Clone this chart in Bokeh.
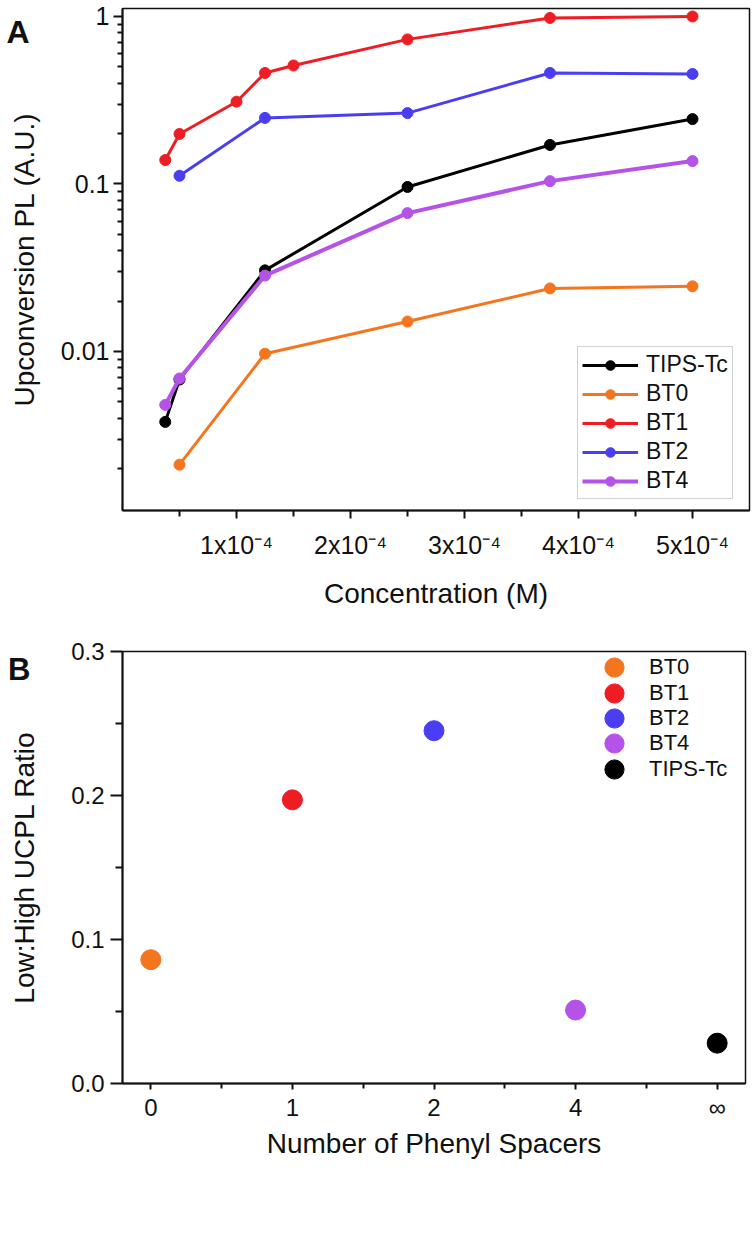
from bokeh.plotting import figure
from bokeh.models import (FixedTicker, CustomJSTickFormatter, Legend, LegendItem,
                          Range1d, LinearAxis)
from bokeh.layouts import column
from bokeh.embed import file_html
from bokeh.resources import INLINE

FONT = "Liberation Sans"

# ---------------- Panel A data ----------------
series_names = ["TIPS-Tc", "BT0", "BT1", "BT2", "BT4"]
series_colors = ["#000000", "#f5751f", "#ee1d23", "#4b3ef2", "#b552e8"]

conc_tips = [3.75e-5, 5e-5, 1.25e-4, 2.5e-4, 3.75e-4, 5e-4]
pl_tips = [0.0038, 0.0068, 0.0305, 0.096, 0.171, 0.244]
conc_bt0 = [5e-5, 1.25e-4, 2.5e-4, 3.75e-4, 5e-4]
pl_bt0 = [0.00211, 0.0097, 0.0151, 0.0238, 0.0245]
conc_bt1 = [3.75e-5, 5e-5, 1e-4, 1.25e-4, 1.5e-4, 2.5e-4, 3.75e-4, 5e-4]
pl_bt1 = [0.139, 0.199, 0.31, 0.46, 0.51, 0.73, 0.98, 1.0]
conc_bt2 = [5e-5, 1.25e-4, 2.5e-4, 3.75e-4, 5e-4]
pl_bt2 = [0.112, 0.248, 0.265, 0.46, 0.454]
conc_bt4 = [3.75e-5, 5e-5, 1.25e-4, 2.5e-4, 3.75e-4, 5e-4]
pl_bt4 = [0.0048, 0.0069, 0.0284, 0.067, 0.104, 0.137]

x_ticks_a = [1e-4, 2e-4, 3e-4, 4e-4, 5e-4]
x_minor_a = [0.5e-4, 1.5e-4, 2.5e-4, 3.5e-4, 4.5e-4]
y_ticks_a = [0.01, 0.1, 1]

# ---------------- Panel B data ----------------
b_names = ["BT0", "BT1", "BT2", "BT4", "TIPS-Tc"]
b_spacers = ["0", "1", "2", "4", "\u221e"]
b_ratio = [0.086, 0.197, 0.245, 0.051, 0.028]
b_colors = ["#f5751f", "#ee1d23", "#4b3ef2", "#b552e8", "#000000"]
y_ticks_b = [0.0, 0.1, 0.2, 0.3]


def style_axes(p, tick_font, label_font):
    for ax in (p.xaxis[0], p.yaxis[0]):
        ax.axis_line_width = 2
        ax.axis_line_color = "#111111"
        ax.major_tick_line_width = 2
        ax.minor_tick_line_width = 2
        ax.major_tick_line_color = "#111111"
        ax.minor_tick_line_color = "#111111"
        ax.major_tick_in = 0
        ax.minor_tick_in = 0
        ax.major_label_text_font = FONT
        ax.major_label_text_font_size = tick_font
        ax.major_label_text_color = "#111111"
        ax.axis_label_text_font = FONT
        ax.axis_label_text_font_size = label_font
        ax.axis_label_text_font_style = "normal"
        ax.axis_label_text_color = "#111111"
    p.grid.visible = False
    p.outline_line_color = "#111111"
    p.outline_line_width = 1.5
    p.background_fill_color = "white"
    p.border_fill_color = "white"


def panel_letter(p, letter, at_value, size):
    """Bold panel letter, drawn as the only tick label of a bare outer axis."""
    ax = LinearAxis(ticker=FixedTicker(ticks=[at_value], minor_ticks=[]),
                    formatter=CustomJSTickFormatter(code='return "%s";' % letter))
    ax.axis_line_color = None
    ax.major_tick_line_color = None
    ax.minor_tick_line_color = None
    ax.major_tick_out = 0
    ax.minor_tick_out = 0
    ax.major_label_standoff = -24
    ax.major_label_text_font = FONT
    ax.major_label_text_font_size = size
    ax.major_label_text_font_style = "bold"
    ax.major_label_text_color = "#111111"
    p.add_layout(ax, "left")


# ================= Panel A =================
pA = figure(frame_width=627, frame_height=502,
            y_axis_type="log",
            x_range=Range1d(0, 5.5e-4), y_range=Range1d(0.001124, 1.116),
            output_backend="svg", toolbar_location=None,
            min_border_left=122, min_border_right=4,
            min_border_top=8, min_border_bottom=115)
style_axes(pA, "25px", "28px")

minor_y = []
for dec in (0.001, 0.01, 0.1):
    for m in range(2, 10):
        minor_y.append(dec * m)
pA.xaxis[0].ticker = FixedTicker(ticks=x_ticks_a, minor_ticks=x_minor_a)
pA.yaxis[0].ticker = FixedTicker(ticks=y_ticks_a, minor_ticks=minor_y)
pA.xaxis[0].formatter = CustomJSTickFormatter(
    code='return Math.round(tick*1e4) + "x10\u207b\u2074";')
pA.yaxis[0].formatter = CustomJSTickFormatter(
    code='return tick >= 1 ? "1" : String(Number(tick.toPrecision(3)));')
pA.xaxis[0].major_tick_out = 8
pA.xaxis[0].minor_tick_out = 6
pA.yaxis[0].major_tick_out = 9
pA.yaxis[0].minor_tick_out = 5
pA.xaxis[0].major_label_standoff = 12
pA.yaxis[0].major_label_standoff = 4
pA.xaxis[0].axis_label = "Concentration (M)"
pA.yaxis[0].axis_label = "Upconversion PL (A.U.)"
pA.xaxis[0].axis_label_standoff = 16
pA.yaxis[0].axis_label_standoff = 18

data_a = [(conc_tips, pl_tips), (conc_bt0, pl_bt0), (conc_bt1, pl_bt1),
          (conc_bt2, pl_bt2), (conc_bt4, pl_bt4)]
items_a = []
for (xs, ys), name, col in zip(data_a, series_names, series_colors):
    lw = 4 if name == "BT4" else 3
    ln = pA.line(xs, ys, line_color=col, line_width=lw)
    sc = pA.scatter(xs, ys, size=11, fill_color=col, line_color=col)
    items_a.append(LegendItem(label=name, renderers=[ln, sc]))

legA = Legend(items=items_a, location=(455, 11),
              border_line_color="#a6a6a6", border_line_width=1.5,
              background_fill_color="white", background_fill_alpha=1,
              padding=4, spacing=2, margin=0,
              glyph_width=56, glyph_height=24, label_height=24,
              label_standoff=8, label_text_font=FONT,
              label_text_font_size="23px", label_text_color="#111111")
pA.add_layout(legA)

# panel letter "A": level with the top of the frame, just below the "1" tick
panel_letter(pA, "A", 0.808, "32px")

# ================= Panel B =================
xpos_b = list(range(len(b_names)))
pB = figure(frame_width=623, frame_height=432,
            x_range=Range1d(-0.2, 4.2), y_range=Range1d(0, 0.3),
            output_backend="svg", toolbar_location=None,
            min_border_left=122, min_border_right=4,
            min_border_top=26, min_border_bottom=100)
style_axes(pB, "24px", "28px")
pB.xaxis[0].ticker = FixedTicker(ticks=xpos_b, minor_ticks=[0.5, 1.5, 2.5, 3.5])
pB.xaxis[0].major_label_overrides = {i: s for i, s in zip(xpos_b, b_spacers)}
pB.yaxis[0].ticker = FixedTicker(ticks=y_ticks_b, minor_ticks=[0.05, 0.15, 0.25])
pB.yaxis[0].formatter = CustomJSTickFormatter(code='return tick.toFixed(1);')
pB.xaxis[0].major_tick_out = 6
pB.xaxis[0].minor_tick_out = 5
pB.yaxis[0].major_tick_out = 12
pB.yaxis[0].minor_tick_out = 7
pB.xaxis[0].major_label_standoff = 4
pB.yaxis[0].major_label_standoff = 6
pB.xaxis[0].axis_label = "Number of Phenyl Spacers"
pB.yaxis[0].axis_label = "Low:High UCPL Ratio"
pB.xaxis[0].axis_label_standoff = 4
pB.yaxis[0].axis_label_standoff = 28

# one single-row legend per entry, so that the legend dots can be as large
# as the plotted dots while the rows stay close together
row_pitch = 25.5
first_row_centre = 1083 - 667  # frame-bottom-relative centre of first row
for i, (xp, yv, name, col) in enumerate(zip(xpos_b, b_ratio, b_names, b_colors)):
    r = pB.scatter([xp], [yv], size=20, fill_color=col, line_color=col)
    centre = first_row_centre - row_pitch * i
    leg = Legend(items=[LegendItem(label=name, renderers=[r])],
                 location=(468, int(round(centre - 24))),
                 border_line_color=None, background_fill_alpha=0,
                 padding=0, spacing=0, margin=0,
                 glyph_width=48, glyph_height=48, label_height=24,
                 label_standoff=11, label_text_font=FONT,
                 label_text_font_size="22px", label_text_color="#111111")
    pB.add_layout(leg)

panel_letter(pB, "B", 0.2875, "31px")

layout = column(pA, pB, spacing=0)
open("out.html", "w").write(file_html(layout, INLINE))
